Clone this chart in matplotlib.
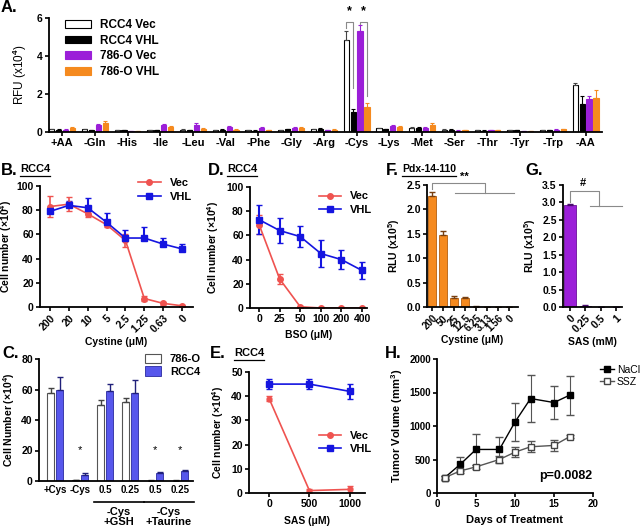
import numpy as np
import matplotlib
matplotlib.use("Agg")
import matplotlib.pyplot as plt
from matplotlib.lines import Line2D

# ------------------------------------------
# Data
# ------------------------------------------
# A. amino acid dropout screen (RFU x10^4)
aa_labels = ["+AA", "-Gln", "-His", "-Ile", "-Leu", "-Val", "-Phe", "-Gly", "-Arg",
             "-Cys", "-Lys", "-Met", "-Ser", "-Thr", "-Tyr", "-Trp", "-AA"]
rcc4_vec = [0.15, 0.15, 0.10, 0.08, 0.12, 0.08, 0.08, 0.10, 0.15, 4.82, 0.20, 0.20, 0.12, 0.08, 0.10, 0.08, 2.45]
rcc4_vhl = [0.12, 0.10, 0.10, 0.10, 0.10, 0.12, 0.06, 0.15, 0.18, 1.05, 0.15, 0.22, 0.12, 0.06, 0.08, 0.08, 1.50]
o786_vec = [0.12, 0.35, 0.05, 0.35, 0.38, 0.28, 0.20, 0.20, 0.08, 5.30, 0.30, 0.22, 0.06, 0.10, 0.04, 0.12, 1.72]
o786_vhl = [0.22, 0.48, 0.05, 0.25, 0.18, 0.12, 0.10, 0.22, 0.12, 1.32, 0.25, 0.35, 0.08, 0.08, 0.05, 0.15, 1.80]
rcc4_vec_err = [0.03, 0.03, 0.02, 0.02, 0.02, 0.02, 0.02, 0.02, 0.03, 0.50, 0.03, 0.04, 0.02, 0.02, 0.02, 0.02, 0.15]
rcc4_vhl_err = [0.03, 0.02, 0.02, 0.02, 0.02, 0.03, 0.02, 0.03, 0.03, 0.15, 0.03, 0.05, 0.02, 0.02, 0.02, 0.02, 0.40]
o786_vec_err = [0.03, 0.08, 0.02, 0.08, 0.08, 0.06, 0.04, 0.04, 0.02, 0.35, 0.05, 0.04, 0.02, 0.02, 0.02, 0.03, 0.15]
o786_vhl_err = [0.04, 0.08, 0.02, 0.04, 0.04, 0.03, 0.02, 0.04, 0.03, 0.20, 0.05, 0.10, 0.02, 0.02, 0.02, 0.03, 0.40]

# B. cystine titration, RCC4
cys_labels = ["200", "20", "10", "5", "2.5", "1.25", "0.63", "0"]
b_vec = [83, 85, 77, 68, 55, 7, 3, 1]
b_vec_err = [9, 6, 3, 2, 5, 2, 1, 1]
b_vhl = [79, 84, 82, 70, 57, 57, 52, 48]
b_vhl_err = [2, 4, 8, 8, 7, 9, 5, 4]

# D. BSO titration, RCC4
bso_labels = ["0", "25", "50", "100", "200", "400"]
d_vec = [69, 24, 1, 0, 0, 0]
d_vec_err = [8, 4, 1, 0.5, 0.5, 0.5]
d_vhl = [73, 64, 59, 45, 40, 31]
d_vhl_err = [12, 10, 9, 11, 8, 7]

# F. Pdx-14-110 (RLU x10^5)
f_labels = ["200", "50", "25", "12.5", "6.25", "3.13", "1.56", "0"]
f_vals = [2.27, 1.47, 0.19, 0.18, 0.01, 0.0, 0.0, 0.0]
f_err = [0.09, 0.09, 0.04, 0.02, 0.01, 0.0, 0.0, 0.0]

# G. SAS (RLU x10^5)
g_labels = ["0", "0.25", "0.5", "1"]
g_vals = [2.93, 0.04, 0.0, 0.0]
g_err = [0.03, 0.02, 0.0, 0.0]

# C. rescue experiment
c_labels = ["+Cys", "-Cys", "0.5", "0.25", "0.5", "0.25"]
c_786o = [58, 0.5, 50, 52, 0.3, 0.3]
c_786o_err = [3, 0.3, 3, 2.5, 0.2, 0.3]
c_rcc4 = [60, 4, 59, 58, 5, 6.5]
c_rcc4_err = [8.5, 1, 4.5, 8, 1, 0.5]

# E. SAS titration, RCC4
sas_um = [0, 500, 1000]
e_vec = [39, 1, 1.5]
e_vec_err = [1, 0.8, 1.2]
e_vhl = [45, 45, 42]
e_vhl_err = [2, 2, 3]

# H. xenograft tumor volume
days = [1, 3, 5, 8, 10, 12, 15, 17]
nacl = [230, 430, 650, 650, 1060, 1410, 1350, 1460]
nacl_err = [30, 100, 230, 180, 280, 350, 250, 290]
ssz = [230, 330, 390, 500, 610, 690, 710, 840]
ssz_err = [20, 30, 30, 50, 70, 80, 80, 20]

# ------------------------------------------
# Style
# ------------------------------------------
plt.rcParams["font.family"] = ["Liberation Sans", "DejaVu Sans"]
plt.rcParams["font.weight"] = "bold"
plt.rcParams["axes.labelweight"] = "bold"
plt.rcParams["font.size"] = 7.5
plt.rcParams["mathtext.fontset"] = "custom"
plt.rcParams["mathtext.rm"] = "Liberation Sans"
plt.rcParams["mathtext.bf"] = "Liberation Sans:bold"
plt.rcParams["axes.linewidth"] = 1.3
plt.rcParams["xtick.major.width"] = 1.2
plt.rcParams["ytick.major.width"] = 1.2
plt.rcParams["xtick.major.size"] = 3
plt.rcParams["ytick.major.size"] = 3
plt.rcParams["xtick.major.pad"] = 1.5
plt.rcParams["ytick.major.pad"] = 1.5

RED = "#EF5350"
BLUE = "#1515E0"
PURPLE = "#9B1FD8"
ORANGE = "#F58A1F"
CBLUE = "#5757EC"
GREY = "#8A8A8A"

W, H = 640, 527
fig = plt.figure(figsize=(6.4, 5.27), dpi=100)


def box(l, t, r, b):
    return [l / W, 1 - b / H, (r - l) / W, (b - t) / H]


def clean(ax):
    ax.spines["top"].set_visible(False)
    ax.spines["right"].set_visible(False)


def up(err):
    return [np.zeros(len(err)), err]


def line_handles(specs):
    return [Line2D([], [], color=c, marker=m, ms=ms, lw=1.2, mfc=fc, mec=ec, label=lab)
            for c, m, ms, fc, ec, lab in specs]


vec_vhl = [(RED, "o", 4, RED, RED, "Vec"), (BLUE, "s", 4.5, BLUE, BLUE, "VHL")]
cell_label = r"Cell number (×10$^{\mathbf{4}}$)"

# ------------------------------------------
# A
# ------------------------------------------
axA = fig.add_axes(box(49, 18, 602, 132))
clean(axA)
xa = np.arange(len(aa_labels))
seriesA = [
    (rcc4_vec, rcc4_vec_err, "white", "black", "RCC4 Vec"),
    (rcc4_vhl, rcc4_vhl_err, "black", "black", "RCC4 VHL"),
    (o786_vec, o786_vec_err, PURPLE, PURPLE, "786-O Vec"),
    (o786_vhl, o786_vhl_err, ORANGE, ORANGE, "786-O VHL"),
]
offs = [-0.315, -0.105, 0.105, 0.315]
for (v, e, fc, ec, lab), o in zip(seriesA, offs):
    axA.bar(xa + o, v, 0.16, yerr=up(e), color=fc, edgecolor=ec, linewidth=0.8,
            label=lab, error_kw=dict(ecolor=ec if fc != "white" else "#444444",
                                     elinewidth=0.8, capsize=1.2, capthick=0.8))
axA.set_xlim(-0.4, 16.5)
axA.set_ylim(0, 6)
axA.set_yticks([0, 2, 4, 6])
axA.set_xticks(xa)
axA.set_xticklabels(aa_labels, fontsize=8)
axA.set_ylabel(r"RFU (x10$^{4}$)", fontsize=8.5, fontweight="normal", labelpad=6)
axA.legend(loc="upper left", bbox_to_anchor=(0.02, 1.03), frameon=False, fontsize=8.5,
           handlelength=2.2, handleheight=0.6, labelspacing=0.3, borderaxespad=0)

# significance brackets on -Cys
ci = aa_labels.index("-Cys")
for a, b, ya, yb in [(0, 1, 5.45, 2.3), (2, 3, 5.7, 1.88)]:
    x0, x1 = ci + offs[a], ci + offs[b]
    axA.plot([x0, x0, x1, x1], [ya, 5.78, 5.78, yb], color=GREY, lw=0.8, clip_on=False)
    axA.text((x0 + x1) / 2, 6.05, "*", ha="center", va="bottom", fontsize=9)

# ------------------------------------------
# B
# ------------------------------------------
axB = fig.add_axes(box(40, 186, 193, 307))
clean(axB)
xb = np.arange(len(cys_labels))
axB.errorbar(xb, b_vec, yerr=b_vec_err, color=RED, marker="o", ms=4, lw=1.2,
             elinewidth=1.2, capsize=2.5)
axB.errorbar(xb, b_vhl, yerr=up(b_vhl_err), color=BLUE, marker="s", ms=4.5, lw=1.2,
             elinewidth=1.5, capsize=2.5)
axB.set_xlim(-0.53, 7.58)
axB.set_ylim(0, 100)
axB.set_yticks(range(0, 101, 20))
axB.set_xticks(xb)
axB.set_xticklabels(cys_labels, rotation=45, ha="right", rotation_mode="anchor")
axB.set_xlabel("Cystine (μM)", labelpad=2)
axB.set_ylabel(cell_label, labelpad=1.5)
axB.legend(handles=line_handles(vec_vhl), loc="upper right", bbox_to_anchor=(1.02, 1.1),
           frameon=False, fontsize=8, handlelength=2.0, labelspacing=0.3, borderaxespad=0)

# ------------------------------------------
# D
# ------------------------------------------
axD = fig.add_axes(box(250, 187, 367, 308))
clean(axD)
xd = np.arange(len(bso_labels))
axD.errorbar(xd, d_vec, yerr=d_vec_err, color=RED, marker="o", ms=4, lw=1.2,
             elinewidth=1.2, capsize=2.5)
axD.errorbar(xd, d_vhl, yerr=d_vhl_err, color=BLUE, marker="s", ms=4.5, lw=1.2,
             elinewidth=1.5, capsize=2.5)
axD.set_xlim(-0.44, 5.24)
axD.set_ylim(0, 100)
axD.set_yticks(range(0, 101, 20))
axD.set_xticks(xd)
axD.set_xticklabels(bso_labels)
axD.set_xlabel("BSO (μM)", labelpad=4)
axD.set_ylabel(cell_label, labelpad=4)
axD.legend(handles=line_handles(vec_vhl), loc="upper right", bbox_to_anchor=(1.08, 1.0),
           frameon=False, fontsize=8, handlelength=2.0, labelspacing=0.3, borderaxespad=0)

# ------------------------------------------
# F
# ------------------------------------------
axF = fig.add_axes(box(427, 185, 518, 307))
clean(axF)
xf = np.arange(len(f_labels))
axF.bar(xf, f_vals, 0.7, yerr=up(f_err), color=ORANGE, edgecolor="#B35F10", linewidth=0.6,
        error_kw=dict(ecolor="#7A4010", elinewidth=1, capsize=2))
axF.set_xlim(-0.45, 7.8)
axF.set_ylim(0, 2.5)
axF.set_yticks([0, 0.5, 1.0, 1.5, 2.0, 2.5])
axF.set_yticklabels(["0.0", "0.5", "1.0", "1.5", "2.0", "2.5"])
axF.set_xticks(xf)
axF.set_xticklabels(f_labels, rotation=45, ha="right", rotation_mode="anchor", fontsize=7)
axF.set_xlabel("Cystine (μM)", labelpad=1)
axF.set_ylabel(r"RLU (x10$^{\mathbf{5}}$)", labelpad=3)
axF.plot([0, 0, 4.8, 4.8], [2.42, 2.55, 2.55, 2.34], color=GREY, lw=0.8, clip_on=False)
axF.plot([2.06, 7.4], [2.34, 2.34], color=GREY, lw=0.8, clip_on=False)
axF.text(2.9, 2.56, "**", ha="center", va="bottom", fontsize=8)

# ------------------------------------------
# G
# ------------------------------------------
axG = fig.add_axes(box(563, 185, 622, 307))
clean(axG)
xg = np.arange(len(g_labels))
axG.bar(xg, g_vals, 0.75, yerr=up(g_err), color=PURPLE, edgecolor="#6A1099", linewidth=0.6,
        error_kw=dict(ecolor="#4A0A70", elinewidth=1, capsize=2))
axG.set_xlim(-0.46, 3.4)
axG.set_ylim(0, 3.5)
axG.set_yticks(np.arange(0, 3.6, 0.5))
axG.set_yticklabels(["0.0", "0.5", "1.0", "1.5", "2.0", "2.5", "3.0", "3.5"])
axG.set_xticks(xg)
axG.set_xticklabels(g_labels, rotation=45, ha="right", rotation_mode="anchor")
axG.set_xlabel("SAS (mM)", labelpad=2)
axG.set_ylabel(r"RLU (x10$^{\mathbf{5}}$)", labelpad=3)
axG.plot([0, 0, 1.9, 1.9], [3.0, 3.34, 3.34, 2.9], color=GREY, lw=0.8, clip_on=False)
axG.plot([1.3, 3.4], [2.9, 2.9], color=GREY, lw=0.8, clip_on=False)
axG.text(0.85, 3.4, "#", ha="center", va="bottom", fontsize=8)

# ------------------------------------------
# C
# ------------------------------------------
axC = fig.add_axes(box(39, 359, 193, 481))
clean(axC)
xc = np.arange(len(c_labels))
axC.bar(xc - 0.18, c_786o, 0.28, yerr=up(c_786o_err), color="white", edgecolor="#555555",
        linewidth=0.8, label="786-O", error_kw=dict(ecolor="#444444", elinewidth=1, capsize=2))
axC.bar(xc + 0.18, c_rcc4, 0.28, yerr=up(c_rcc4_err), color=CBLUE, edgecolor="#2A2AA0",
        linewidth=0.6, label="RCC4", error_kw=dict(ecolor="#20207A", elinewidth=1, capsize=2))
for i in [1, 4, 5]:
    axC.text(xc[i], 17, "*", ha="center", va="bottom", fontsize=8, fontweight="normal")
axC.set_xlim(-0.64, 5.52)
axC.set_ylim(0, 80)
axC.set_yticks(range(0, 81, 20))
axC.set_xticks(xc)
axC.set_xticklabels(c_labels, fontsize=7)
axC.tick_params(axis="x", length=0, pad=3)
axC.set_ylabel(r"Cell Number (×10$^{\mathbf{4}}$)", labelpad=3)
axC.legend(loc="upper right", bbox_to_anchor=(1.08, 1.08), frameon=False, fontsize=8,
           handlelength=1.4, handleheight=0.9, labelspacing=0.2, borderaxespad=0)
trC = axC.get_xaxis_transform()
for (g0, g1), sub in [((2, 3), "-Cys\n+GSH"), ((4, 5), "-Cys\n+Taurine")]:
    axC.plot([g0 - 0.45, g1 + 0.55], [-0.175, -0.175], color="black", lw=1.2,
             transform=trC, clip_on=False)
    axC.text((g0 + g1) / 2 + 0.05, -0.21, sub, transform=trC, ha="center", va="top",
             fontsize=8, linespacing=1.1)

# ------------------------------------------
# E
# ------------------------------------------
axE = fig.add_axes(box(249, 372, 365, 493))
clean(axE)
axE.errorbar(sas_um, e_vec, yerr=e_vec_err, color=RED, marker="o", ms=3.5, lw=1.2,
             elinewidth=1.2, capsize=2.5)
axE.errorbar(sas_um, e_vhl, yerr=e_vhl_err, color=BLUE, marker="s", ms=4.5, lw=1.2,
             elinewidth=1.5, capsize=2.5)
axE.set_xlim(-250, 1190)
axE.set_ylim(0, 50)
axE.set_yticks(range(0, 51, 10))
axE.set_xticks(sas_um)
axE.set_xlabel("SAS (μM)", labelpad=5)
axE.set_ylabel(cell_label, labelpad=4)
axE.legend(handles=line_handles(vec_vhl), loc="upper right", bbox_to_anchor=(1.1, 0.55),
           frameon=False, fontsize=8, handlelength=2.0, labelspacing=0.3, borderaxespad=0)

# ------------------------------------------
# H
# ------------------------------------------
axH = fig.add_axes(box(437, 359, 593, 493))
clean(axH)
axH.errorbar(days, nacl, yerr=nacl_err, color="black", marker="s", ms=5, lw=1,
             elinewidth=0.8, ecolor="#555555", capsize=3)
axH.errorbar(days, ssz, yerr=ssz_err, color="#555555", marker="s", ms=5, mfc="white",
             mec="#444444", lw=1, elinewidth=0.8, capsize=3)
axH.set_xlim(0, 20)
axH.set_ylim(0, 2000)
axH.set_xticks([0, 5, 10, 15, 20])
axH.set_yticks([0, 500, 1000, 1500, 2000])
axH.tick_params(labelsize=7)
axH.set_xlabel("Days of Treatment", fontsize=8, labelpad=4)
axH.set_ylabel(r"Tumor Volume (mm$^{\mathbf{3}}$)", fontsize=8, labelpad=3)
axH.text(13.1, 260, "p=0.0082", fontsize=9, va="center")
hH = [Line2D([], [], color="black", marker="s", ms=4.5, lw=1, label="NaCl"),
      Line2D([], [], color="#555555", marker="s", ms=4.5, mfc="white", mec="#444444",
             lw=1, label="SSZ")]
leg = axH.legend(handles=hH, loc="upper left", bbox_to_anchor=(1.02, 0.99), frameon=False,
                 handlelength=1.3, handletextpad=0.3, labelspacing=0.25,
                 borderaxespad=0, prop={"family": ["Liberation Sans Narrow", "Liberation Sans"],
                                        "size": 7.5, "weight": "normal"})

# ------------------------------------------
# Panel letters and underlined titles
# ------------------------------------------
for s, x, y in [("A.", 1, 12), ("B.", 1, 175), ("D.", 208, 175), ("F.", 386, 175),
                ("G.", 525, 175), ("C.", 2, 358), ("E.", 210, 358), ("H.", 385, 358)]:
    fig.text(x / W, 1 - y / H, s, fontsize=12, fontweight="bold", va="baseline")

titles = []
for s, x, y, fs in [("RCC4", 20, 172, 8), ("RCC4", 227, 172, 8), ("Pdx-14-110", 402, 172, 7.5),
                    ("RCC4", 234, 356, 8)]:
    titles.append(fig.text(x / W, 1 - y / H, s, fontsize=fs, fontweight="bold", va="baseline"))

fig.canvas.draw()
for t in titles:
    bb = t.get_window_extent()
    yl = (bb.y0 - 1.5) / H
    fig.add_artist(Line2D([bb.x0 / W, bb.x1 / W], [yl, yl], color="black", lw=0.9))

fig.savefig("out.png", dpi=100)
